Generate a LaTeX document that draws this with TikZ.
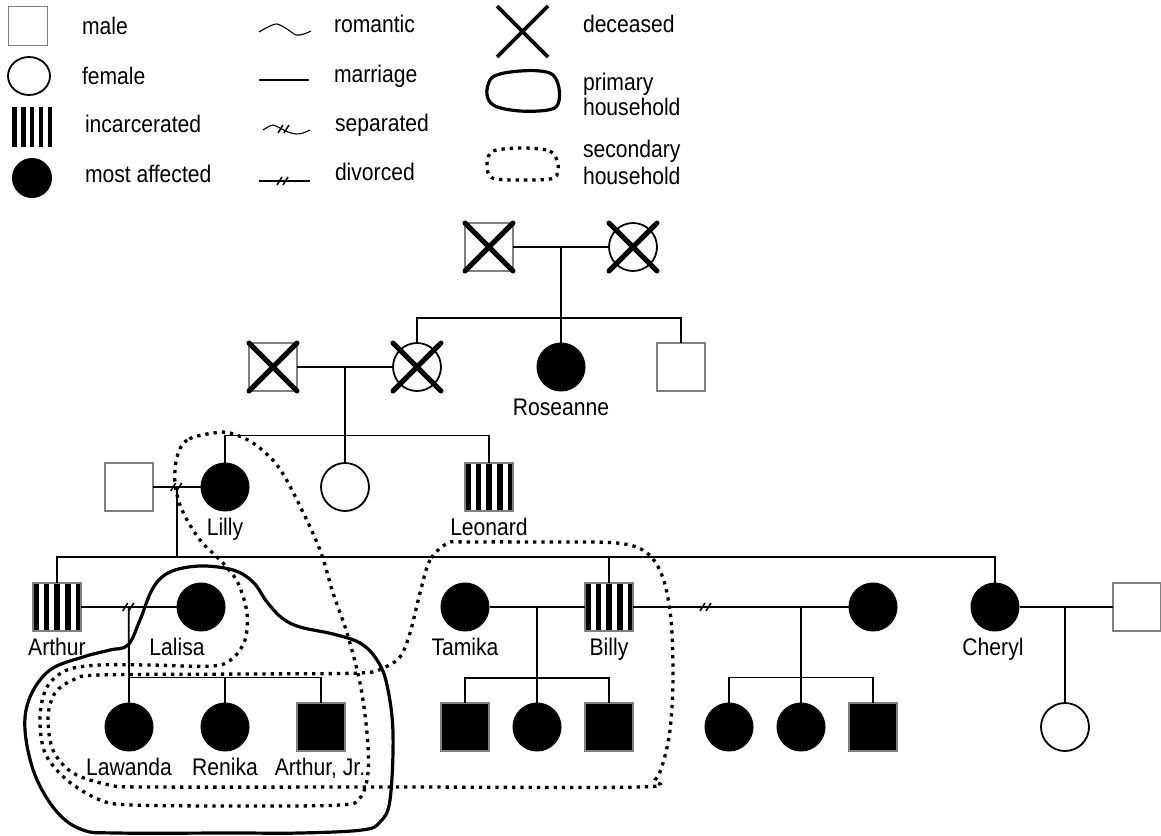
\documentclass[tikz,border=0pt]{standalone}
\usepackage{fontspec}
\setmainfont{Liberation Sans}[FakeStretch=0.88]
\usetikzlibrary{calc,shapes.geometric}
\begin{document}
\begin{tikzpicture}[x=1pt,y=-1pt,
  every node/.style={inner sep=0pt,outer sep=0pt},
  txt/.style={font=\fontsize{24}{27}\selectfont},
  msq/.style={rectangle,draw=gray,line width=1.4pt,fill=white,minimum size=48pt},
  fcirc/.style={circle,draw=black,line width=1.8pt,fill=white,minimum size=48pt},
  fblack/.style={circle,fill=black,minimum size=49pt},
  mblack/.style={rectangle,fill=black,draw=gray,line width=1.2pt,minimum size=48pt},
  jailsq/.style={rectangle,draw=gray,line width=1.2pt,fill=white,minimum size=#1,
    path picture={\foreach \k in {0,...,4}{
      \fill[black] ([xshift={\k*0.2222*#1}]path picture bounding box.south west)
        rectangle ([xshift={(\k*0.2222+0.118)*#1}]path picture bounding box.north west);}}},
  jailsq/.default=48pt,
  rel/.style={line width=1.8pt},
  hash/.style={line width=1.5pt},
  xmark/.style={line width=5pt,line cap=round},
  home/.style={line width=3.2pt,line join=round},
  dothome/.style={line width=3.3pt,dash pattern=on 3.3pt off 5pt},
  divmark/.pic={\draw[hash] (-6,4) -- (-1,-4) (0,4) -- (5,-4);},
  deadx/.pic={\draw[xmark] (-24,-24) -- (24,24) (24,-24) -- (-24,24);}
]
\useasboundingbox (0,0) rectangle (1161,835);

% ---------- key ----------
\node[msq,minimum size=39pt] (keymale) at (28,26) {};
\node[txt,anchor=base west] (keymalet) at (82,34) {male};
\node[fcirc,ellipse,minimum width=42pt,minimum height=38pt] (keyfemale) at (29,76) {};
\node[txt,anchor=base west] (keyfemalet) at (82,84) {female};
\node[jailsq=40pt,draw=none] (keyjail) at (32,127) {};
\node[txt,anchor=base west] (keyjailt) at (85,132) {incarcerated};
\node[fblack,minimum size=40pt] (keyaff) at (32,178) {};
\node[txt,anchor=base west] (keyafft) at (85,182) {most affected};

\draw[line width=1.1pt] plot[smooth] coordinates {(259,32) (268,27) (277,24) (287,29) (296,35) (304,34) (311,31)};
\node[txt,anchor=base west] (keyromt) at (334,32) {romantic};
\draw[rel] (259,80) -- (309,80);
\node[txt,anchor=base west] (keymart) at (334,82) {marriage};
\draw[line width=1.1pt] plot[smooth] coordinates {(263,130) (268,127) (273,125) (280,128) (288,132) (296,134) (303,133) (310,130)};
\pic at (284,129) {divmark};
\node[txt,anchor=base west] (keysept) at (335,131) {separated};
\draw[rel] (259,181) -- (310,181);
\pic at (283,181) {divmark};
\node[txt,anchor=base west] (keydivt) at (335,180) {divorced};

\draw[line width=3.6pt] (497,6) -- (548,57) (548,6) -- (497,57);
\node[txt,anchor=base west] (keydeadt) at (583,32) {deceased};
\draw[home] plot[smooth cycle,tension=0.6] coordinates {(520,71) (540,71) (553,75) (559,88) (558,104) (548,110) (520,111) (495,106) (487,95) (490,80) (500,74)};
\node[txt,anchor=base west] (keyprim1) at (583,90) {primary};
\node[txt,anchor=base west] (keyprim2) at (583,115) {household};
\draw[dothome] plot[smooth cycle] coordinates {(523,148) (550,151) (558,164) (554,178) (523,180) (492,178) (487,164) (493,151)};
\node[txt,anchor=base west] (keysec1) at (583,157) {secondary};
\node[txt,anchor=base west] (keysec2) at (583,184) {household};

% ---------- generation 1 ----------
\node[msq] (gf) at (489,247) {};
\node[fcirc] (gm) at (633,247) {};
\pic at (gf) {deadx};
\pic at (gm) {deadx};

% ---------- generation 2 ----------
\node[msq] (lf) at (273,367) {};
\node[fcirc] (lm) at (417,367) {};
\pic at (lf) {deadx};
\pic at (lm) {deadx};
\node[fblack] (ros) at (561,367) {};
\node[txt,anchor=base] (rost) at ($(ros)+(0,48)$) {Roseanne};
\node[msq] (gs) at (681,367) {};

% ---------- generation 3 ----------
\node[msq] (um) at (129,487) {};
\node[fblack] (lilly) at (225,487) {};
\node[txt,anchor=base] (lillyt) at ($(lilly)+(0,48)$) {Lilly};
\node[fcirc] (wc) at (345,487) {};
\node[jailsq] (leo) at (489,487) {};
\node[txt,anchor=base] (leot) at ($(leo)+(0,48)$) {Leonard};

% ---------- generation 4 ----------
\node[jailsq] (arthur) at (57,607) {};
\node[txt,anchor=base] (arthurt) at ($(arthur)+(0,48)$) {Arthur};
\node[fblack] (lalisa) at (201,607) {};
\node[txt,anchor=base] (lalisat) at ($(lalisa)+(-24,48)$) {Lalisa};
\node[fblack] (tamika) at (465,607) {};
\node[txt,anchor=base] (tamikat) at ($(tamika)+(0,48)$) {Tamika};
\node[jailsq] (billy) at (609,607) {};
\node[txt,anchor=base] (billyt) at ($(billy)+(0,48)$) {Billy};
\node[fblack] (bw) at (873,607) {};
\node[fblack] (cheryl) at (995,607) {};
\node[txt,anchor=base] (cherylt) at ($(cheryl)+(-2,48)$) {Cheryl};
\node[msq] (chh) at (1137,607) {};

% ---------- generation 5 ----------
\node[fblack] (lawanda) at (129,727) {};
\node[txt,anchor=base] (lawandat) at ($(lawanda)+(0,48)$) {Lawanda};
\node[fblack] (renika) at (225,727) {};
\node[txt,anchor=base] (renikat) at ($(renika)+(0,48)$) {Renika};
\node[mblack] (ajr) at (321,727) {};
\node[txt,anchor=base] (ajrt) at ($(ajr)+(-1,48)$) {Arthur, Jr.};
\node[mblack] (tb1) at (465,727) {};
\node[fblack] (tb2) at (537,727) {};
\node[mblack] (tb3) at (609,727) {};
\node[fblack] (bw1) at (729,727) {};
\node[fblack] (bw2) at (801,727) {};
\node[mblack] (bw3) at (873,727) {};
\node[fcirc] (chc) at (1065,727) {};

% ---------- relationship lines ----------
\draw[rel] (gf.east) -- (gm.west);
\coordinate (gmid) at ($(gf.east)!0.5!(gm.west)$);
\draw[rel] (gmid) -- (ros.north);
\draw[rel] (lm.north) -- ++(0,-25) -| (gs.north);

\draw[rel] (lf.east) -- (lm.west);
\coordinate (lmid) at ($(lf.east)!0.5!(lm.west)$);
\draw[rel] (lmid) -- (wc.north);
\draw[rel] (lilly.north) -- ++(0,-27) -| (leo.north);

\draw[rel] (um.east) -- (lilly.west);
\coordinate (umid) at ($(um.east)!0.5!(lilly.west)$);
\pic at (umid) {divmark};
\draw[rel] (umid) -- ++(0,70);
\draw[rel] (arthur.north) -- ++(0,-26) -| (cheryl.north);
\draw[rel] (billy.north) -- ++(0,-26);

\draw[rel] (arthur.east) -- (lalisa.west);
\coordinate (amid) at ($(arthur.east)!0.5!(lalisa.west)$);
\pic at (amid) {divmark};
\draw[rel] (amid) -- (lawanda.north);
\draw[rel] (lawanda.north) ++(0,-25) -| (ajr.north);
\draw[rel] (renika.north) -- ++(0,-25);

\draw[rel] (tamika.east) -- (billy.west);
\draw[rel] (tb2.north) -- (tb2.north |- billy.west);
\draw[rel] (tb1.north) -- ++(0,-25) -| (tb3.north);

\draw[rel] (billy.east) -- (bw.west);
\coordinate (bdiv) at (706,607);
\pic at (bdiv) {divmark};
\draw[rel] (bw2.north) -- (bw2.north |- bw.west);
\draw[rel] (bw1.north) -- ++(0,-25) -| (bw3.north);

\draw[rel] (cheryl.east) -- (chh.west);
\draw[rel] (chc.north) -- (chc.north |- cheryl.east);

% ---------- households ----------
% primary household of Lalisa and her children
\draw[home] plot[smooth cycle,tension=0.6] coordinates {
  (128,645) (140,620) (153,588) (170,572) (200,566) (233,570) (253,582) (267,602)
  (282,618) (300,627) (333,634) (360,643) (377,660) (387,685) (393,733) (390,800)
  (380,822) (362,830) (300,833) (233,833) (117,833) (83,830) (57,812) (35,775)
  (25,730) (30,697) (50,670) (83,657) (110,650)};
% Lilly's household
\draw[dothome] plot[smooth cycle,tension=0.55] coordinates {
  (213,433) (187,440) (177,457) (175,483) (182,510) (200,540) (223,563) (238,583)
  (247,613) (245,640) (233,658) (213,666) (150,665) (100,665) (67,670) (47,687)
  (40,717) (45,753) (67,780) (100,800) (133,805) (240,806) (340,805) (360,798)
  (368,773) (367,733) (360,683) (347,633) (333,593) (320,550) (297,500) (277,465)
  (253,443) (230,433)};
% Billy's household
\draw[dothome] plot[smooth cycle,tension=0.55] coordinates {
  (448,543) (430,560) (420,593) (410,633) (400,657) (383,668) (360,673) (250,674)
  (100,675) (73,680) (55,693) (48,717) (53,750) (73,773) (110,785) (150,787)
  (400,787) (640,787) (655,780) (663,763) (670,730) (673,680) (671,620) (663,578)
  (647,553) (617,543) (540,542) (467,542)};
\end{tikzpicture}
\end{document}
